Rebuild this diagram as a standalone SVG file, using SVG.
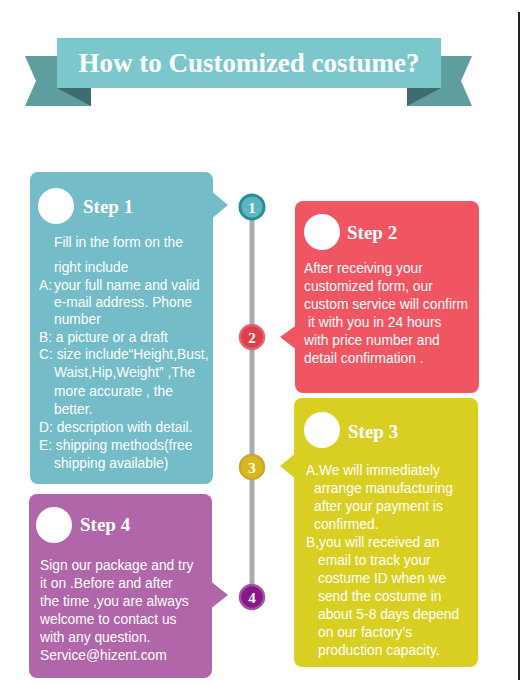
<svg xmlns="http://www.w3.org/2000/svg" width="526" height="685" viewBox="0 0 526 685">
<style>
.title{font-family:"Liberation Serif","Times New Roman",serif;font-weight:bold;font-size:27px;fill:#fff}
.head{font-family:"Liberation Serif","Times New Roman",serif;font-weight:bold;font-size:19px;fill:#fff}
.num{font-family:"Liberation Serif","Times New Roman",serif;font-weight:bold;font-size:15px;fill:#fff;text-anchor:middle}
.body{font-family:"Liberation Sans",Arial,sans-serif;font-size:13.8px;fill:#fff}
.dot{fill:#fff}
</style>
<rect width="526" height="685" fill="#fff"/>
<line x1="519" y1="12" x2="519" y2="680" stroke="#222" stroke-width="2"/>
<g id="banner">
<polygon points="25,56 57,56 57,88 91,88 91,106 25,106 36,81" fill="#5f9e9f"/>
<polygon points="57,88 91,88 91,106" fill="#3e6c6f"/>
<polygon points="472,56 441,56 441,88 407,88 407,106 472,106 461,81" fill="#5f9e9f"/>
<polygon points="441,88 407,88 407,106" fill="#3e6c6f"/>
<rect x="57" y="38" width="384" height="50" fill="#7bc7cc"/>
<text class="title" x="249" y="72" text-anchor="middle">How to Customized costume?</text>
</g>
<g id="connectors">
<line x1="252" y1="207" x2="252" y2="597" stroke="#a9abaf" stroke-width="5"/>
</g>
<g id="marker1">
<circle cx="252" cy="207" r="12" fill="#5cb6bf" stroke="#2b8c97" stroke-width="3"/>
<text class="num" x="252" y="212.5">1</text>
</g>
<g id="marker2">
<circle cx="252" cy="337" r="12" fill="#dc3e4b" stroke="#e4646e" stroke-width="2.5"/>
<text class="num" x="252" y="342.5">2</text>
</g>
<g id="marker3">
<circle cx="252" cy="467" r="12" fill="#d8b81c" stroke="#c9a62c" stroke-width="2.5"/>
<text class="num" x="252" y="472.5">3</text>
</g>
<g id="marker4">
<circle cx="252" cy="597" r="12" fill="#861888" stroke="#a552a4" stroke-width="2.5"/>
<text class="num" x="252" y="602.5">4</text>
</g>
<g id="step1">
<rect x="30" y="172" width="183" height="312" rx="8" fill="#73bcc8"/>
<polygon points="210,190 228,205 210,220" fill="#73bcc8"/>
<circle class="dot" cx="56" cy="206" r="18"/>
<text class="head" x="83" y="213">Step 1</text>
<text class="body" x="54" y="247">Fill in the form on the</text>
<text class="body" x="54" y="272">right include</text>
<text class="body" x="39" y="290">A:</text>
<text class="body" x="54" y="290">your full name and valid</text>
<text class="body" x="54" y="307">e-mail address. Phone</text>
<text class="body" x="54" y="324">number</text>
<text class="body" x="39" y="342">B: a picture or a draft</text>
<text class="body" x="39" y="359">C: size include“Height,Bust,</text>
<text class="body" x="54" y="377">Waist,Hip,Weight” ,The</text>
<text class="body" x="54" y="396">more accurate , the</text>
<text class="body" x="54" y="414">better.</text>
<text class="body" x="39" y="432">D: description with detail.</text>
<text class="body" x="39" y="450">E: shipping methods(free</text>
<text class="body" x="54" y="468">shipping available)</text>
</g>
<g id="step2">
<rect x="295" y="201" width="184" height="192" rx="8" fill="#f05562"/>
<polygon points="298,324 280,337 298,351" fill="#f05562"/>
<circle class="dot" cx="322" cy="232" r="18"/>
<text class="head" x="347" y="239">Step 2</text>
<text class="body" x="304" y="273">After receiving your</text>
<text class="body" x="304" y="291">customized form, our</text>
<text class="body" x="304" y="309">custom service will confirm</text>
<text class="body" x="308" y="327">it with you in 24 hours</text>
<text class="body" x="304" y="345">with price number and</text>
<text class="body" x="304" y="363">detail confirmation .</text>
</g>
<g id="step3">
<rect x="294" y="398" width="184" height="269" rx="8" fill="#d9cf22"/>
<polygon points="297,452 280,466 297,480" fill="#d9cf22"/>
<circle class="dot" cx="322" cy="430" r="18"/>
<text class="head" x="348" y="438">Step 3</text>
<text class="body" x="306" y="475">A.We will immediately</text>
<text class="body" x="314" y="493">arrange manufacturing</text>
<text class="body" x="314" y="511">after your payment is</text>
<text class="body" x="314" y="529">confirmed.</text>
<text class="body" x="306" y="547">B,you will received an</text>
<text class="body" x="318" y="565">email to track your</text>
<text class="body" x="318" y="583">costume ID when we</text>
<text class="body" x="318" y="601">send the costume in</text>
<text class="body" x="318" y="619">about 5-8 days depend</text>
<text class="body" x="318" y="637">on our factory’s</text>
<text class="body" x="318" y="655">production capacity.</text>
</g>
<g id="step4">
<rect x="29" y="494" width="183" height="184" rx="8" fill="#b066a9"/>
<polygon points="209,580 228,595 209,610" fill="#b066a9"/>
<circle class="dot" cx="54" cy="525" r="18"/>
<text class="head" x="80" y="531">Step 4</text>
<text class="body" x="40" y="570">Sign our package and try</text>
<text class="body" x="40" y="588">it on .Before and after</text>
<text class="body" x="40" y="606">the time ,you are always</text>
<text class="body" x="40" y="624">welcome to contact us</text>
<text class="body" x="40" y="642">with any question.</text>
<text class="body" x="40" y="660">Service@hizent.com</text>
</g>
</svg>
